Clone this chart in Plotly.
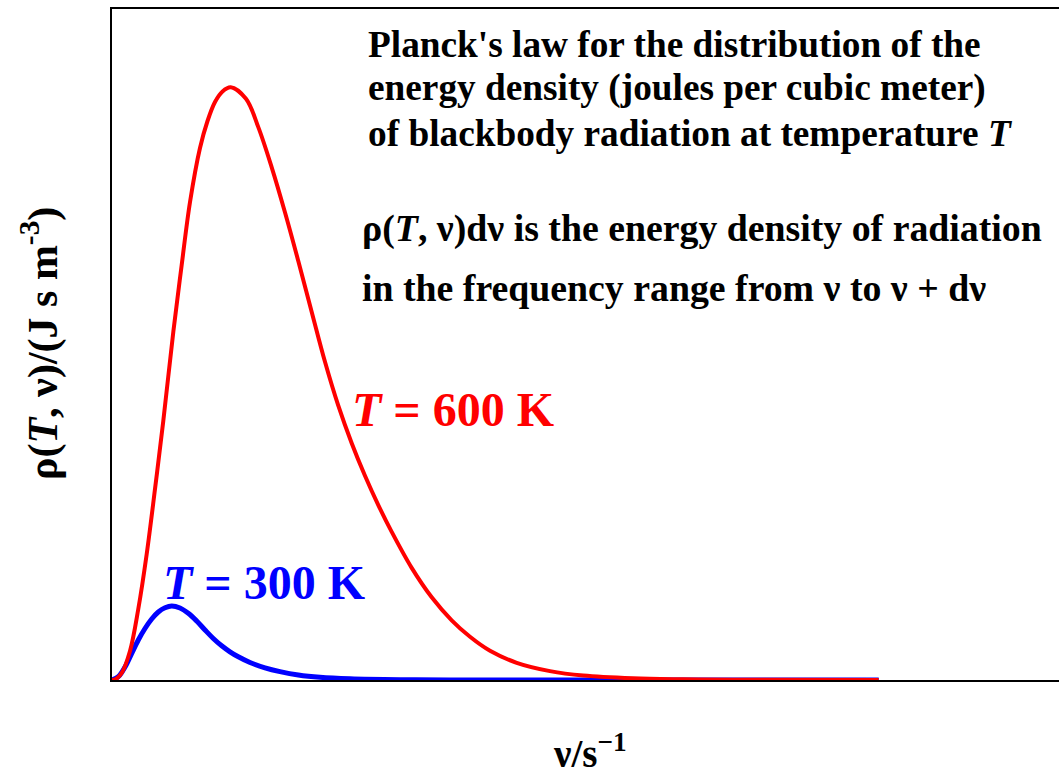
import plotly.graph_objects as go

# frequency in units of 1e13 s^-1, energy density in units of 1e-18 J s m^-3
nu_600 = [0, 0.119, 0.288, 0.534, 0.780, 1.030, 1.276, 1.522, 1.819, 2.068, 2.315, 2.611,
          2.834, 3.056, 3.279, 3.522, 3.976, 4.341, 4.739, 5.134, 5.528, 5.926, 6.320,
          6.715, 7.113, 7.507, 7.902, 8.300, 8.893, 9.487, 10.080, 10.623, 11.217,
          12.009, 12.997, 13.985, 15.460, 16.944, 18.427, 22.751]
rho_600 = [0, 0.0029, 0.0203, 0.0841, 0.2059, 0.3654, 0.5539, 0.7511, 1.0092, 1.2035, 1.3862, 1.5428,
           1.6211, 1.6762, 1.7067, 1.7188, 1.6855, 1.6034, 1.4868, 1.3558, 1.2151, 1.0675, 0.9228,
           0.7955, 0.6867, 0.5922, 0.5072, 0.4295, 0.3251, 0.2398, 0.1731, 0.1253, 0.0847,
           0.0499, 0.0258, 0.0128, 0.0049, 0.0020, 0.0006, 0.0]

nu_300 = [0, 0.187, 0.386, 0.585, 0.780, 0.979, 1.178, 1.374, 1.573, 1.772, 2.018, 2.264,
          2.513, 2.760, 3.006, 3.255, 3.501, 3.748, 4.095, 4.540, 4.985, 5.528, 6.172,
          7.062, 8.546, 10.030, 22.751]
rho_300 = [0, 0.0096, 0.0377, 0.0774, 0.1160, 0.1494, 0.1769, 0.1972, 0.2094, 0.2146, 0.2088, 0.1934,
           0.1711, 0.1450, 0.1204, 0.0992, 0.0818, 0.0673, 0.0508, 0.0354, 0.0244, 0.0145, 0.0078,
           0.0035, 0.0009, 0.0003, 0.0]

labels_600 = "<i>T</i> = 600 K"
labels_300 = "<i>T</i> = 300 K"
title_lines = [
    "Planck's law for the distribution of the",
    "energy density (joules per cubic meter)",
    "of blackbody radiation at temperature <i>T</i>",
]
note_lines = [
    "ρ(<i>T</i>, ν)dν is the energy density of radiation",
    "in the frequency range from ν to ν + dν",
]
x_title = "ν/s<sup>−1</sup>"
y_title = "ρ(<i>T</i>, ν)/(J s m<sup>-3</sup>)"

W, H = 1059, 776
ML, MR, MT, MB = 112, 0, 9, 96
PW, PH = W - ML - MR, H - MT - MB
XMAX = PW / 33.7
YMAX = PH * 0.0029


def px(xp):
    return (xp - ML) / PW


def py(yp):
    return (H - MB - yp) / PH


FONT = "Liberation Serif, Times New Roman, Times, serif"

fig = go.Figure()
fig.add_trace(go.Scatter(x=nu_300, y=rho_300, mode="lines",
                         line=dict(color="#0000FF", width=5, shape="spline", smoothing=1.0),
                         hoverinfo="skip", showlegend=False))
fig.add_trace(go.Scatter(x=nu_600, y=rho_600, mode="lines",
                         line=dict(color="#FF0000", width=4, shape="spline", smoothing=1.0),
                         hoverinfo="skip", showlegend=False))

ann = []
for txt, base in zip(title_lines, [58, 102, 147]):
    ann.append(dict(text="<b>" + txt + "</b>", x=px(366), y=py(base + 9), xref="paper", yref="paper",
                    xanchor="left", yanchor="bottom", showarrow=False,
                    font=dict(family=FONT, size=37.3, color="black")))
for txt, base in zip(note_lines, [243, 302]):
    ann.append(dict(text="<b>" + txt + "</b>", x=px(360), y=py(base + 9), xref="paper", yref="paper",
                    xanchor="left", yanchor="bottom", showarrow=False,
                    font=dict(family=FONT, size=37.8, color="black")))
ann.append(dict(text="<b>" + labels_600 + "</b>", x=px(350), y=py(427 + 11), xref="paper", yref="paper",
                xanchor="left", yanchor="bottom", showarrow=False,
                font=dict(family=FONT, size=48, color="#FF0000")))
ann.append(dict(text="<b>" + labels_300 + "</b>", x=px(161), y=py(600 + 11), xref="paper", yref="paper",
                xanchor="left", yanchor="bottom", showarrow=False,
                font=dict(family=FONT, size=48, color="#0000FF")))
ann.append(dict(text="<b>" + x_title + "</b>", x=px(590), y=py(777), xref="paper", yref="paper",
                xanchor="center", yanchor="bottom", showarrow=False,
                font=dict(family=FONT, size=39, color="black")))
ann.append(dict(text="<b>" + y_title + "</b>", x=px(69), y=py(344), xref="paper", yref="paper",
                xanchor="right", yanchor="middle", showarrow=False, textangle=-90,
                font=dict(family=FONT, size=42, color="black")))

fig.update_layout(
    width=W, height=H,
    margin=dict(l=ML, r=MR, t=MT, b=MB, pad=0),
    paper_bgcolor="white", plot_bgcolor="white",
    annotations=ann,
    xaxis=dict(range=[0, XMAX], showline=True, mirror=True, linecolor="black", linewidth=2,
               showgrid=False, zeroline=False, showticklabels=False, ticks=""),
    yaxis=dict(range=[0, YMAX], showline=True, mirror=False, linecolor="black", linewidth=2,
               showgrid=False, zeroline=False, showticklabels=False, ticks=""),
)

fig.write_html("out.html", config={"displayModeBar": False})
